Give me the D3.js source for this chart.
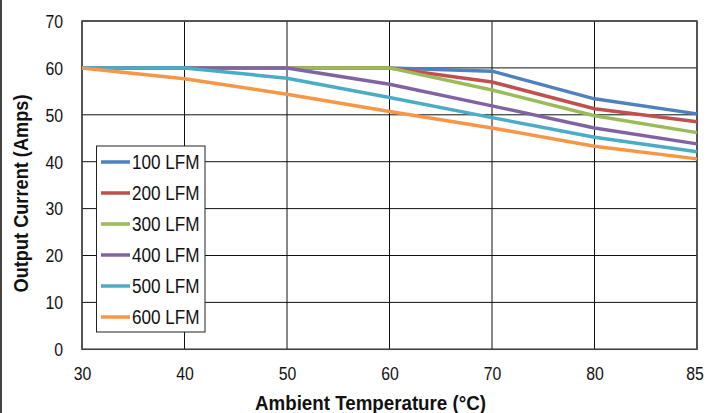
<!DOCTYPE html>
<html><head><meta charset="utf-8">
<script src="https://cdn.jsdelivr.net/npm/d3@7/dist/d3.min.js"></script>
<style>
body{margin:0;background:#fff;}
svg text{font-family:"Liberation Sans Narrow","Arial Narrow","Liberation Sans",sans-serif;}
</style></head>
<body><svg id="c" width="707" height="413"></svg>
<script>
const categories = ["30","40","50","60","70","80","85"];
const seriesNames = ["100 LFM","200 LFM","300 LFM","400 LFM","500 LFM","600 LFM"];
const s100 = [60,60,60,60,59.3,53.4,50.2];
const s200 = [60,60,60,60,57.0,51.3,48.5];
const s300 = [60,60,60,60,55.3,49.8,46.2];
const s400 = [60,60,60,56.5,51.9,47.2,43.8];
const s500 = [60,60,57.8,53.7,49.4,45.2,42.1];
const s600 = [60,57.7,54.4,50.7,47.2,43.3,40.6];
const yTicks = [0,10,20,30,40,50,60,70];
const colors = ["#4f81bd","#c0504d","#9bbb59","#8064a2","#4bacc6","#f79646"];
const allSeries = [s100,s200,s300,s400,s500,s600];

const FONT = '"Liberation Sans Narrow","Arial Narrow","Liberation Sans",sans-serif';
const svg = d3.select("#c");
const L=82, R=697, T=21, B=349.3;
const x = d3.scalePoint().domain(categories).range([L,R]);
const y = d3.scaleLinear().domain([0,70]).range([B,T]);

// left edge line
svg.append("line").attr("x1",1).attr("x2",1).attr("y1",0).attr("y2",413).attr("stroke","#444").attr("stroke-width",2);

// grid
const g = svg.append("g");
g.selectAll(".hg").data(yTicks).join("line")
  .attr("x1",L).attr("x2",R).attr("y1",d=>y(d)).attr("y2",d=>y(d))
  .attr("stroke","#111").attr("stroke-width",1);
g.selectAll(".vg").data(categories).join("line")
  .attr("x1",d=>x(d)).attr("x2",d=>x(d)).attr("y1",T).attr("y2",B)
  .attr("stroke","#111").attr("stroke-width",1);
svg.append("rect").attr("x",L).attr("y",T).attr("width",R-L).attr("height",B-T)
  .attr("fill","none").attr("stroke","#444").attr("stroke-width",1.5);

// axes labels
const yAxis = d3.axisLeft(y).tickValues(yTicks).tickSize(0).tickPadding(0);
const ya = svg.append("g").attr("transform",`translate(63,0)`).call(yAxis);
ya.select(".domain").remove();
ya.selectAll("text").attr("font-size",18).attr("fill","#111").attr("dy","0.35em")
  .style("font-family",FONT)
  .attr("textLength",function(){return this.textContent.length*8.8;})
  .attr("lengthAdjust","spacingAndGlyphs");
const xAxis = d3.axisBottom(x).tickSize(0).tickPadding(0);
const xa = svg.append("g").attr("transform",`translate(0,380)`).call(xAxis);
xa.select(".domain").remove();
xa.selectAll("text").attr("font-size",18).attr("fill","#111").attr("dy","0")
  .style("font-family",FONT)
  .attr("x",(d,i,n)=> i===n.length-1 ? -2.5 : 0)
  .attr("textLength",function(){return this.textContent.length*8.8;})
  .attr("lengthAdjust","spacingAndGlyphs");

// lines
const line = d3.line().x((d,i)=>x(categories[i])).y(d=>y(d));
svg.selectAll(".ser").data(allSeries).join("path")
  .attr("d",line).attr("fill","none")
  .attr("stroke",(d,i)=>colors[i]).attr("stroke-width",3.5).attr("stroke-linejoin","round");

// titles
svg.append("text").attr("x",370.5).attr("y",410).attr("text-anchor","middle")
  .attr("font-size",21).attr("font-weight","bold").attr("fill","#111")
  .attr("textLength",231).attr("lengthAdjust","spacingAndGlyphs").text("Ambient Temperature (°C)");
svg.append("text").attr("transform","translate(27.5,193.5) rotate(-90)").attr("text-anchor","middle")
  .attr("font-size",21).attr("font-weight","bold").attr("fill","#111")
  .attr("textLength",198).attr("lengthAdjust","spacingAndGlyphs").text("Output Current (Amps)");

// legend
const lg = svg.append("g");
lg.append("rect").attr("x",96.5).attr("y",146).attr("width",108.5).attr("height",186)
  .attr("fill","#fff").attr("stroke","#222").attr("stroke-width",1);
const items = lg.selectAll(".li").data(seriesNames).join("g")
  .attr("transform",(d,i)=>`translate(0,${162+i*31})`);
items.append("line").attr("x1",101).attr("x2",130).attr("y1",0).attr("y2",0)
  .attr("stroke",(d,i)=>colors[i]).attr("stroke-width",3.5);
items.append("text").attr("x",132).attr("y",0).attr("dy","0.35em")
  .attr("font-size",20).attr("fill","#111")
  .attr("textLength",67.5).attr("lengthAdjust","spacingAndGlyphs").text(d=>d);
</script></body></html>
